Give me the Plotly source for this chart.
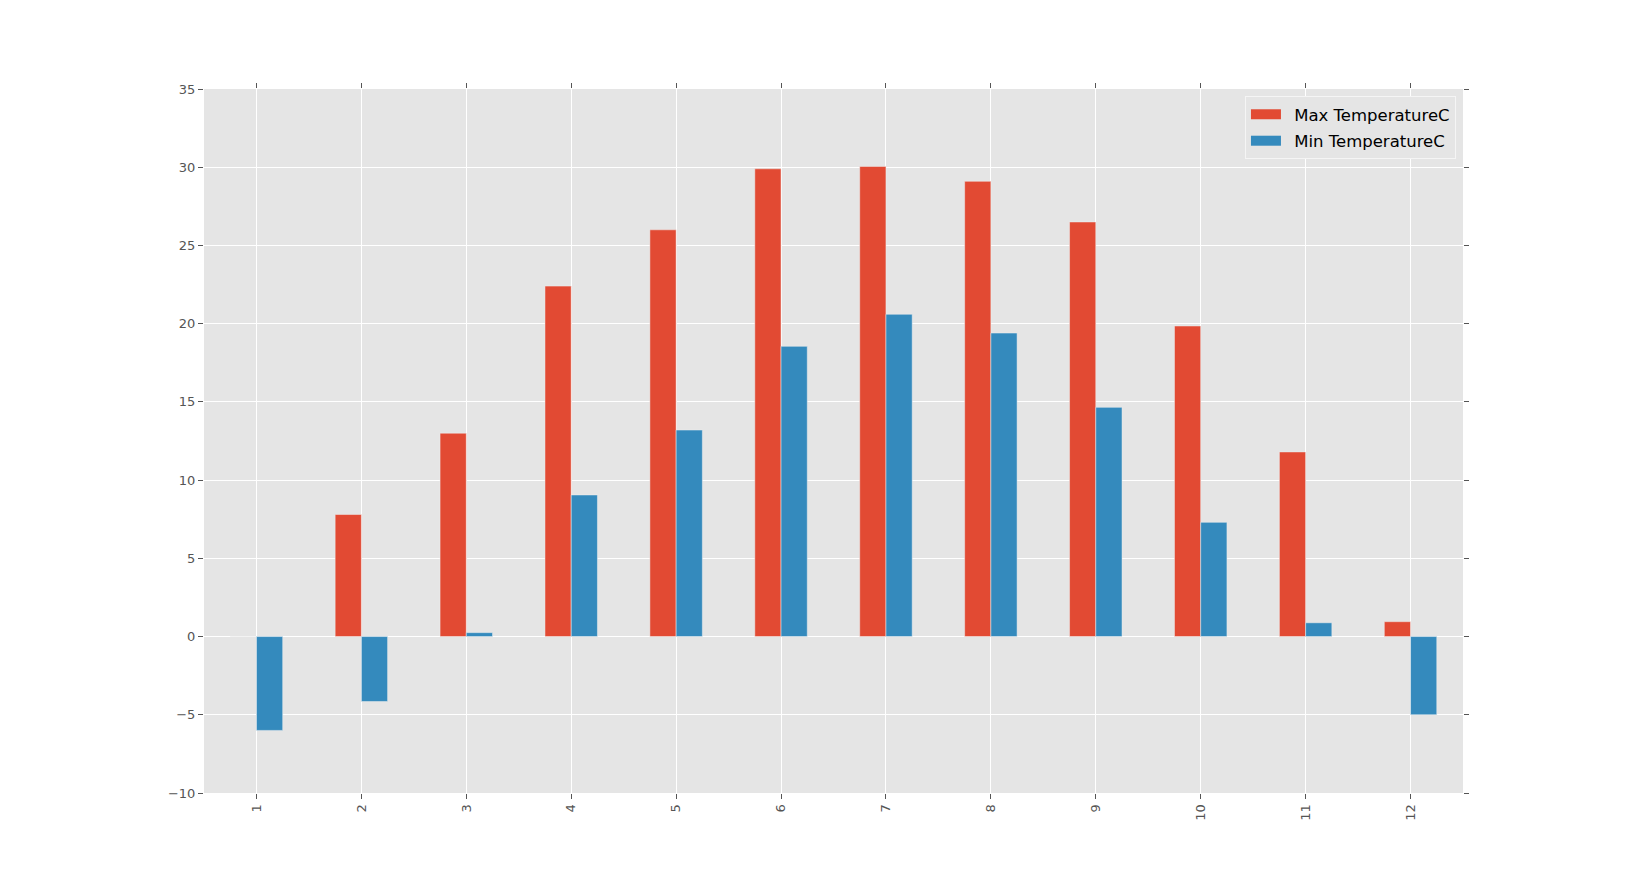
import plotly.graph_objects as go

months = [1, 2, 3, 4, 5, 6, 7, 8, 9, 10, 11, 12]
max_temp = [0.0, 7.8, 13.0, 22.4, 26.0, 29.9, 30.05, 29.1, 26.5, 19.85, 11.8, 0.95]
min_temp = [-6.0, -4.15, 0.25, 9.05, 13.2, 18.55, 20.6, 19.4, 14.65, 7.3, 0.88, -5.0]
tick_labels = [str(m) for m in months]
yticks = [-10, -5, 0, 5, 10, 15, 20, 25, 30, 35]
series_names = ["Max TemperatureC", "Min TemperatureC"]
series_colors = ["#E24A33", "#348ABD"]

fig = go.Figure()
fig.add_trace(go.Bar(
    x=months, y=max_temp, name=series_names[0], showlegend=False,
    width=0.25, offset=-0.25,
    marker=dict(color=series_colors[0], line=dict(color="#EEEEEE", width=0.5)),
))
fig.add_trace(go.Bar(
    x=months, y=min_temp, name=series_names[1], showlegend=False,
    width=0.25, offset=0,
    marker=dict(color=series_colors[1], line=dict(color="#EEEEEE", width=0.5)),
))
# legend entries drawn as wide patches (matplotlib style)
for i, (nm, col) in enumerate(zip(series_names, series_colors)):
    fig.add_trace(go.Scatter(
        x=[None], y=[None], mode="lines", name="\u2002" + nm,
        line=dict(color=col, width=11), legendgroup=f"g{i}",
        hoverinfo="skip",
    ))

axis_common = dict(
    showgrid=True, gridcolor="white", gridwidth=1,
    ticks="outside", ticklen=5, tickcolor="#555555", tickwidth=1,
    mirror="allticks", showline=False, zeroline=False,
    tickfont=dict(family="DejaVu Sans", size=13, color="#555555"),
)

fig.update_layout(
    width=1626, height=882,
    margin=dict(l=204, r=163, t=89, b=89),
    paper_bgcolor="white", plot_bgcolor="#E5E5E5",
    barmode="overlay",
    font=dict(family="DejaVu Sans"),
    xaxis=dict(range=[0.5, 12.5], tickvals=months, ticktext=tick_labels,
               tickangle=-90, **axis_common),
    yaxis=dict(range=[-10, 35], tickvals=yticks, **axis_common),
    legend=dict(x=0.9944, y=0.99, xanchor="right", yanchor="top",
                bgcolor="#E5E5E5", bordercolor="#F5F5F5", borderwidth=1,
                font=dict(family="DejaVu Sans", size=16.5, color="black"),
                traceorder="grouped", tracegroupgap=2),
    showlegend=True,
)

fig.write_html("out.html")
